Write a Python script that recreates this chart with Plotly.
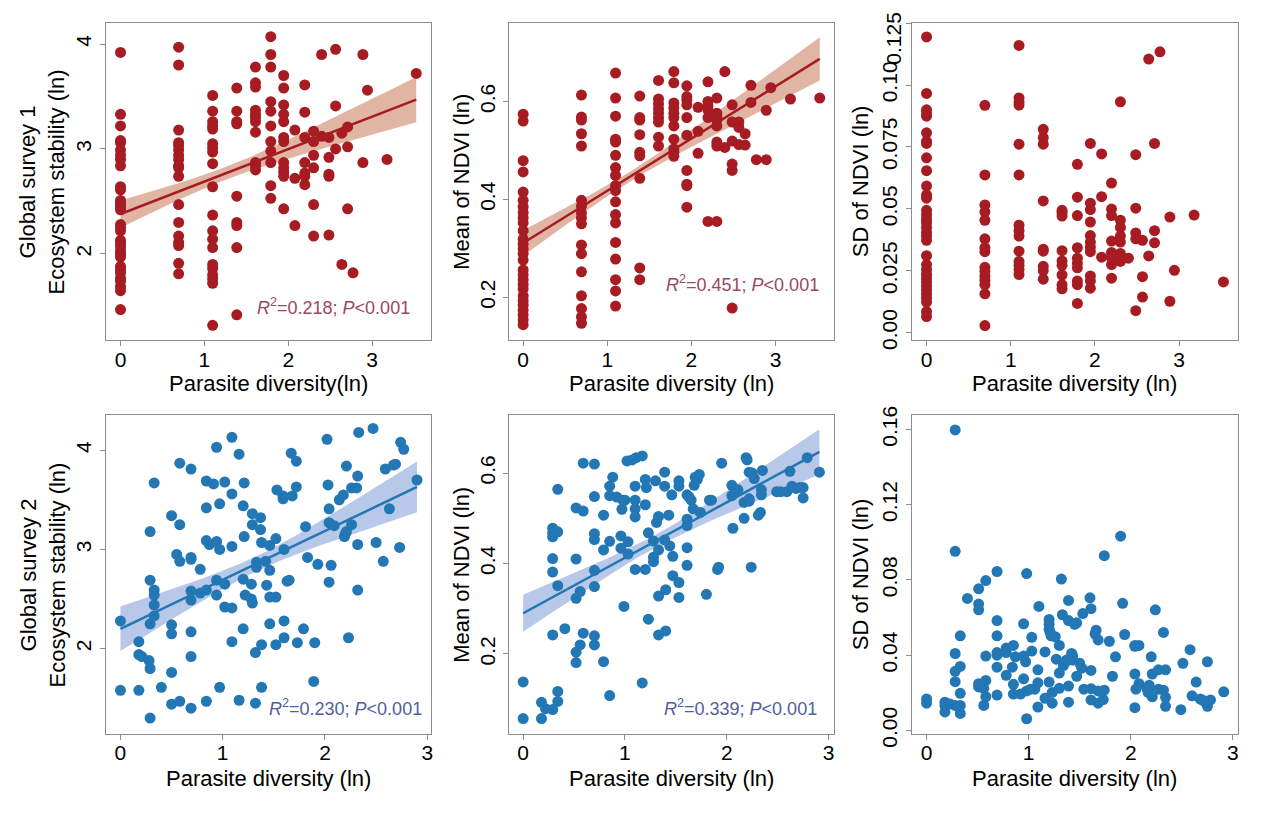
import numpy as np
import plotly.graph_objects as go

# ---------------- DATA ----------------
# Top row: parasite richness groups (x = ln(n))
top_n = [1, 2, 3, 4, 5, 6, 7, 8, 9, 10, 11, 12, 13, 14, 15, 16, 18, 19, 24, 34]

s1_stability = [
    [3.92, 3.33, 3.22, 3.08, 3.06, 2.99, 2.94, 2.90, 2.84, 2.64, 2.61, 2.51, 2.49, 2.47, 2.44, 2.42, 2.28, 2.25,
     2.22, 2.13, 2.10, 2.07, 2.03, 2.00, 1.97, 1.88, 1.85, 1.82, 1.77, 1.74, 1.69, 1.65, 1.47],
    [3.97, 3.80, 3.18, 3.06, 3.03, 2.99, 2.94, 2.90, 2.84, 2.82, 2.74, 2.47, 2.30, 2.17, 2.11, 2.08, 1.91, 1.81],
    [3.51, 3.36, 3.26, 3.22, 3.19, 3.05, 3.01, 2.97, 2.86, 2.64, 2.37, 2.22, 2.14, 2.06, 1.90, 1.86, 1.80, 1.76, 1.72, 1.32],
    [3.58, 3.36, 3.26, 3.24, 2.55, 2.30, 2.27, 2.06, 1.42],
    [3.78, 3.63, 3.59, 3.37, 3.33, 3.30, 3.26, 3.16, 2.87, 2.84, 2.80],
    [4.07, 3.90, 3.78, 3.45, 3.36, 3.22, 3.07, 2.98, 2.87, 2.65, 2.53],
    [3.70, 3.58, 3.42, 3.33, 3.26, 3.11, 3.07, 2.87, 2.82, 2.78, 2.74, 2.43],
    [3.18, 2.72, 2.27],
    [3.61, 3.35, 3.11, 2.87, 2.77, 2.74, 2.66],
    [3.17, 3.07, 2.94, 2.82, 2.47, 2.17],
    [3.90, 3.12],
    [3.11, 2.92, 2.76, 2.74, 2.18],
    [3.95, 3.41, 3.00],
    [3.15, 1.90],
    [3.21, 3.02, 2.43],
    [1.82],
    [3.90, 2.87],
    [3.56],
    [2.90],
    [3.72],
]

s1_mean_ndvi = [
    [0.574, 0.560, 0.479, 0.456, 0.415, 0.398, 0.385, 0.373, 0.362, 0.352, 0.336, 0.319, 0.309, 0.299, 0.289, 0.276,
     0.256, 0.246, 0.236, 0.226, 0.217, 0.203, 0.193, 0.184, 0.174, 0.164, 0.154, 0.144],
    [0.613, 0.568, 0.562, 0.534, 0.509, 0.398, 0.386, 0.372, 0.362, 0.350, 0.307, 0.289, 0.252, 0.203, 0.177, 0.160, 0.147],
    [0.658, 0.607, 0.570, 0.523, 0.517, 0.490, 0.465, 0.449, 0.428, 0.418, 0.395, 0.369, 0.352, 0.312, 0.278, 0.236,
     0.213, 0.182],
    [0.611, 0.567, 0.562, 0.532, 0.496, 0.489, 0.443, 0.260, 0.236],
    [0.643, 0.605, 0.595, 0.585, 0.576, 0.567, 0.558, 0.527, 0.509],
    [0.661, 0.638, 0.597, 0.587, 0.576, 0.567, 0.550, 0.523, 0.503, 0.496, 0.488],
    [0.632, 0.610, 0.603, 0.593, 0.567, 0.531, 0.459, 0.431, 0.428, 0.384],
    [0.588, 0.539, 0.494],
    [0.640, 0.600, 0.591, 0.582, 0.567, 0.355],
    [0.607, 0.576, 0.570, 0.562, 0.550, 0.517, 0.509, 0.355],
    [0.661, 0.506],
    [0.593, 0.558, 0.519, 0.472, 0.459, 0.178],
    [0.558, 0.547, 0.512],
    [0.534, 0.511],
    [0.633, 0.598],
    [0.481],
    [0.582, 0.481],
    [0.628],
    [0.605],
    [0.607],
]

s1_sd_ndvi = [
    [0.1194, 0.0966, 0.0900, 0.0887, 0.0874, 0.0807, 0.0772, 0.0764, 0.0706, 0.0654, 0.0592, 0.0556, 0.0543, 0.0494,
     0.0477, 0.0460, 0.0445, 0.0425, 0.0405, 0.0390, 0.0373, 0.0311, 0.0275, 0.0255, 0.0235, 0.0222, 0.0207, 0.0190,
     0.0173, 0.0157, 0.0141, 0.0124, 0.0085, 0.0065],
    [0.0918, 0.0637, 0.0516, 0.0488, 0.0454, 0.0379, 0.0343, 0.0327, 0.0264, 0.0248, 0.0229, 0.0212, 0.0194, 0.0157, 0.0029],
    [0.1160, 0.0948, 0.0931, 0.0919, 0.0761, 0.0637, 0.0434, 0.0412, 0.0390, 0.0329, 0.0288, 0.0272, 0.0255, 0.0235],
    [0.0821, 0.0788, 0.0761, 0.0532, 0.0337, 0.0329, 0.0268, 0.0251, 0.0216],
    [0.0494, 0.0484, 0.0471, 0.0331, 0.0290, 0.0272, 0.0233, 0.0194, 0.0177],
    [0.0680, 0.0547, 0.0473, 0.0343, 0.0301, 0.0281, 0.0262, 0.0209, 0.0194, 0.0118],
    [0.0764, 0.0523, 0.0497, 0.0447, 0.0392, 0.0366, 0.0346, 0.0327, 0.0229, 0.0209, 0.0180],
    [0.0722, 0.0549, 0.0305],
    [0.0604, 0.0499, 0.0473, 0.0370, 0.0324, 0.0301, 0.0275, 0.0220],
    [0.0932, 0.0454, 0.0425, 0.0390, 0.0366, 0.0320, 0.0288],
    [0.0301],
    [0.0719, 0.0503, 0.0403, 0.0379, 0.0089],
    [0.0373, 0.0226, 0.0144],
    [0.1105, 0.0310],
    [0.0764, 0.0412, 0.0363],
    [0.1134],
    [0.0467, 0.0127],
    [0.0252],
    [0.0475],
    [0.0205],
]

# Bottom row: Global survey 2
s2_div_a = [0.00, 0.00, 0.18, 0.18, 0.18, 0.21, 0.28, 0.29, 0.29, 0.29, 0.29, 0.29, 0.33, 0.33, 0.33, 0.33, 0.33, 0.40,
            0.50, 0.50, 0.50, 0.50, 0.50, 0.55, 0.58, 0.58, 0.58, 0.58, 0.69, 0.69, 0.69, 0.69, 0.69, 0.69, 0.69, 0.69,
            0.78, 0.78, 0.84, 0.84, 0.84, 0.84, 0.84, 0.87, 0.91, 0.94, 0.94, 0.94, 0.94, 0.97, 0.97, 0.97, 1.02, 1.02,
            1.02, 1.09, 1.09, 1.09, 1.09, 1.09, 1.16, 1.16, 1.20, 1.20, 1.20, 1.21, 1.21, 1.22, 1.28, 1.28, 1.29,
            1.29, 1.29, 1.32, 1.32, 1.33, 1.33, 1.37, 1.37, 1.38, 1.38, 1.38, 1.42, 1.43, 1.46, 1.46, 1.46, 1.46, 1.52,
            1.52, 1.52, 1.53, 1.59, 1.59, 1.60, 1.60, 1.60, 1.63, 1.65, 1.67, 1.68, 1.72, 1.72, 1.73, 1.79, 1.81,
            1.83, 1.89, 1.90, 1.93, 2.02, 2.03, 2.04, 2.04, 2.04, 2.06, 2.09, 2.14, 2.18, 2.19, 2.20, 2.21, 2.21,
            2.23, 2.26, 2.26, 2.31, 2.32, 2.32, 2.32, 2.33, 2.47, 2.50, 2.57, 2.59, 2.63, 2.67, 2.69, 2.73, 2.74, 2.77,
            2.90]
s2_stability = [2.28, 1.58, 2.07, 1.94, 1.58, 1.92, 1.88, 3.18, 2.69, 2.25, 1.80, 1.30, 3.67, 2.59, 2.54, 2.44, 2.33,
                1.61, 3.34, 2.24, 2.15, 1.76, 1.44, 2.95, 3.87, 3.25, 2.88, 1.47, 3.81, 2.92, 2.90, 2.58, 2.49, 2.17,
                1.92, 1.40, 2.80, 2.56, 3.69, 3.42, 3.09, 2.59, 1.47, 3.05, 3.66, 4.03, 3.08, 2.69, 2.54, 3.46, 3.00,
                1.61, 3.68, 2.65, 2.42, 4.13, 3.56, 3.03, 2.41, 2.07, 3.96, 1.48, 3.44, 2.70, 2.20, 3.67, 3.13,
                2.54, 2.65, 2.50, 3.36, 3.25, 2.46, 1.96, 1.45, 2.87, 2.82, 3.32, 3.20, 3.07, 2.04, 1.61, 2.88, 2.64,
                3.04, 2.79, 2.52, 2.25, 3.11, 2.52, 2.04, 3.60, 3.54, 3.51, 3.00, 2.28, 2.11, 2.68, 2.69, 3.97, 3.54,
                3.89, 3.63, 2.06, 2.20, 3.23, 2.92, 1.67, 2.06, 2.85, 4.11, 3.65, 3.41, 3.27, 2.67, 2.84, 3.24, 3.50,
                3.55, 3.13, 3.16, 3.84, 3.18, 2.11, 3.62, 3.25, 3.62, 3.74, 3.05, 2.59, 4.18, 4.22, 3.07, 2.88, 3.81,
                3.41, 3.85, 3.86, 3.02, 4.08, 4.01, 3.70]

s2_div_b = [0.00, 0.00, 0.18, 0.18, 0.22, 0.29, 0.29, 0.29, 0.29, 0.29, 0.29, 0.29, 0.34, 0.34, 0.34, 0.34, 0.34, 0.41,
            0.52, 0.52, 0.52, 0.52, 0.52, 0.56, 0.59, 0.59, 0.59, 0.56, 0.70, 0.70, 0.70, 0.70, 0.70, 0.70, 0.70, 0.70,
            0.79, 0.79, 0.79, 0.85, 0.85, 0.88, 0.85, 0.85, 0.92, 0.96, 0.96, 0.97, 0.99, 0.98, 1.00, 1.02, 1.03, 1.03,
            1.07, 1.10, 1.10, 1.10, 1.10, 1.10, 1.11, 1.17, 1.17, 1.20, 1.20, 1.20, 1.21, 1.23, 1.23, 1.28, 1.28,
            1.30, 1.31, 1.28, 1.33, 1.33, 1.33, 1.33, 1.39, 1.39, 1.39, 1.40, 1.40, 1.43, 1.44, 1.46, 1.47, 1.47,
            1.53, 1.53, 1.53, 1.53, 1.61, 1.61, 1.61, 1.61, 1.61, 1.63, 1.65, 1.67, 1.68, 1.69, 1.71, 1.73, 1.74,
            1.80, 1.83, 1.85, 1.91, 1.92, 1.95, 2.05, 2.05, 2.06, 2.08, 2.11, 2.17, 2.17, 2.19, 2.20, 2.22, 2.22,
            2.22, 2.24, 2.25, 2.27, 2.31, 2.33, 2.34, 2.34, 2.35, 2.49, 2.53, 2.59, 2.62, 2.64, 2.68, 2.72, 2.75,
            2.75, 2.79, 2.91]
s2_mean_ndvi = [0.138, 0.057, 0.093, 0.057, 0.079, 0.478, 0.468, 0.459, 0.411, 0.381, 0.242, 0.077, 0.564, 0.470,
                0.351, 0.117, 0.095, 0.256, 0.523, 0.410, 0.323, 0.204, 0.181, 0.338, 0.622, 0.516, 0.246, 0.220,
                0.620, 0.548, 0.466, 0.453, 0.385, 0.349, 0.240, 0.220, 0.507, 0.183, 0.430, 0.449, 0.108, 0.591,
                0.571, 0.550, 0.547, 0.461, 0.434, 0.520, 0.305, 0.540, 0.540, 0.627, 0.448, 0.421, 0.629, 0.540,
                0.521, 0.571, 0.503, 0.387, 0.634, 0.638, 0.136, 0.530, 0.387, 0.586, 0.568, 0.468, 0.277, 0.450,
                0.414, 0.583, 0.491, 0.404, 0.504, 0.430, 0.328, 0.242, 0.602, 0.571, 0.452, 0.342, 0.251, 0.507,
                0.439, 0.552, 0.416, 0.373, 0.571, 0.583, 0.358, 0.325, 0.552, 0.498, 0.484, 0.435, 0.396, 0.547,
                0.540, 0.521, 0.573, 0.591, 0.586, 0.597, 0.513, 0.332, 0.540, 0.540, 0.387, 0.392, 0.622, 0.550,
                0.573, 0.478, 0.557, 0.563, 0.535, 0.500, 0.634, 0.629, 0.538, 0.602, 0.543, 0.392, 0.600, 0.588,
                0.507, 0.513, 0.563, 0.552, 0.606, 0.559, 0.559, 0.559, 0.604, 0.571, 0.566, 0.568, 0.568, 0.545,
                0.634, 0.602]

s2_div_c = [0.00, 0.00, 0.18, 0.18, 0.18, 0.23, 0.28, 0.28, 0.28, 0.28, 0.28, 0.28, 0.33, 0.33, 0.33, 0.33, 0.33, 0.40,
            0.51, 0.51, 0.51, 0.51, 0.51, 0.56, 0.56, 0.58, 0.58, 0.58, 0.58, 0.69, 0.69, 0.69, 0.69, 0.69, 0.69, 0.69,
            0.78, 0.78, 0.78, 0.85, 0.84, 0.85, 0.85, 0.87, 0.92, 0.95, 0.95, 0.95, 0.97, 0.98, 0.98, 0.98, 1.02,
            1.03, 1.03, 1.06, 1.10, 1.09, 1.09, 1.09, 1.16, 1.16, 1.20, 1.20, 1.20, 1.21, 1.20, 1.22, 1.23, 1.23,
            1.26, 1.27, 1.30, 1.30, 1.30, 1.32, 1.33, 1.34, 1.36, 1.37, 1.39, 1.39, 1.39, 1.39, 1.42, 1.43, 1.43,
            1.45, 1.47, 1.47, 1.50, 1.52, 1.53, 1.54, 1.60, 1.61, 1.61, 1.61, 1.61, 1.65, 1.66, 1.68, 1.68, 1.68,
            1.74, 1.73, 1.74, 1.79, 1.82, 1.85, 1.90, 1.92, 1.94, 2.04, 2.04, 2.04, 2.05, 2.08, 2.04, 2.08, 2.16,
            2.17, 2.18, 2.20, 2.21, 2.21, 2.24, 2.27, 2.27, 2.32, 2.32, 2.34, 2.34, 2.34, 2.49, 2.51, 2.58, 2.60,
            2.64, 2.68, 2.71, 2.75, 2.75, 2.78, 2.91]
s2_sd_ndvi = [0.0167, 0.0145, 0.0150, 0.0133, 0.0098, 0.0141, 0.1598, 0.0952, 0.0409, 0.0314, 0.0259, 0.0133, 0.0503,
              0.0340, 0.0197, 0.0133, 0.0090, 0.0702, 0.0753, 0.0672, 0.0641, 0.0248, 0.0231, 0.0224, 0.0133, 0.0797,
              0.0395, 0.0266, 0.0179, 0.0845, 0.0584, 0.0503, 0.0414, 0.0400, 0.0336, 0.0188, 0.0438, 0.0414, 0.0293,
              0.0452, 0.0336, 0.0245, 0.0193, 0.0391, 0.0193, 0.0567, 0.0274, 0.0395, 0.0365, 0.0062, 0.0834, 0.0210,
              0.0219, 0.0495, 0.0422, 0.0219, 0.0659, 0.0322, 0.0253, 0.0124, 0.0417, 0.0171, 0.0590, 0.0564, 0.0538,
              0.0521, 0.0257, 0.0503, 0.0145, 0.0202, 0.0498, 0.0379, 0.0452, 0.0224, 0.0305, 0.0805, 0.0615, 0.0345,
              0.0365, 0.0374, 0.0584, 0.0691, 0.0236, 0.0150, 0.0409, 0.0397, 0.0374, 0.0564, 0.0572, 0.0288, 0.0357,
              0.0331, 0.0621, 0.0219, 0.0705, 0.0647, 0.0319, 0.0222, 0.0162, 0.0512, 0.0533, 0.0481, 0.0210, 0.0145,
              0.0929, 0.0164, 0.0214, 0.0474, 0.0288, 0.0391, 0.1033, 0.0676, 0.0510, 0.0447, 0.0452, 0.0300, 0.0219,
              0.0248, 0.0121, 0.0452, 0.0219, 0.0202, 0.0240, 0.0391, 0.0300, 0.0179, 0.0641, 0.0322, 0.0219, 0.0521,
              0.0214, 0.0322, 0.0176, 0.0128, 0.0110, 0.0357, 0.0429, 0.0184, 0.0257, 0.0167, 0.0159, 0.0365, 0.0128,
              0.0162, 0.0205]

# Regression results:
# [x_start, x_end, y_start, y_end, CI half-width at start, minimum CI half-width, CI half-width at end]
fit_s1_stability = [0.0, 3.526, 2.38, 3.47, 0.13, 0.06, 0.215]
fit_s1_mean_ndvi = [0.0, 3.526, 0.311, 0.687, 0.026, 0.010, 0.044]
fit_s2_stability = [0.0, 2.90, 2.20, 3.63, 0.224, 0.075, 0.256]
fit_s2_mean_ndvi = [0.0, 2.91, 0.290, 0.647, 0.041, 0.014, 0.050]

stats_r2 = ["0.218", "0.451", "0.230", "0.339"]

x_title = ["Parasite diversity(ln)", "Parasite diversity (ln)", "Parasite diversity (ln)",
           "Parasite diversity (ln)", "Parasite diversity (ln)", "Parasite diversity (ln)"]
y_title = ["Global survey 1<br>Ecosystem stability (ln)", "Mean of NDVI (ln)", "SD of NDVI (ln)",
           "Global survey 2<br>Ecosystem stability (ln)", "Mean of NDVI (ln)", "SD of NDVI (ln)"]

# ---------------- STYLE ----------------
RED = "#a61c22"
RED_BAND = "rgba(214,156,134,0.75)"
RED_TXT = "#9a4865"
BLUE = "#2277b4"
BLUE_BAND = "rgba(160,182,224,0.75)"
BLUE_TXT = "#4f5f9e"
FONT = "Arial, Liberation Sans, sans-serif"
FRAME = "#8c8c8c"
TICK_SIZE = 21
TITLE_SIZE = 22

W, H = 1267, 816
cols_px = [(106, 432), (510, 835), (913, 1240)]
rows_px = [(14, 341), (418, 746)]
ytitle_x = [43, 462, 862]
xtitle_y = [385, 792]


def flatten(groups):
    xs, ys = [], []
    for n, vals in zip(top_n, groups):
        for v in vals:
            xs.append(float(np.log(n)))
            ys.append(v)
    return np.array(xs), np.array(ys)


def band_from_fit(f, npts=80):
    xa, xb, ya, yb, h0, hm, h1 = f
    xs = np.linspace(xa, xb, npts)
    yh = ya + (yb - ya) * (xs - xa) / (xb - xa)
    # hyperbolic CI shape: hw = sqrt(hm^2 + b (x-m)^2)
    r = np.sqrt((h1 ** 2 - hm ** 2) / (h0 ** 2 - hm ** 2))
    m = xa + (xb - xa) / (1 + r)
    b = (h0 ** 2 - hm ** 2) / (m - xa) ** 2
    hw = np.sqrt(hm ** 2 + b * (xs - m) ** 2)
    return xs, yh, yh - hw, yh + hw


x1, y1 = flatten(s1_stability)
x2, y2 = flatten(s1_mean_ndvi)
x3, y3 = flatten(s1_sd_ndvi)

panels = [
    dict(x=x1, y=y1, c=RED, band=RED_BAND, txt=RED_TXT, fit=fit_s1_stability, stat=stats_r2[0], ay=306, ax=413,
         xr=[-0.175, 3.706], yr=[1.176, 4.204], yt=[2, 3, 4], ytt=["2", "3", "4"]),
    dict(x=x2, y=y2, c=RED, band=RED_BAND, txt=RED_TXT, fit=fit_s1_mean_ndvi, stat=stats_r2[1], ay=282, ax=822,
         xr=[-0.166, 3.692], yr=[0.112, 0.761], yt=[0.2, 0.4, 0.6], ytt=["0.2", "0.4", "0.6"]),
    dict(x=x3, y=y3, c=RED, fit=None,
         xr=[-0.178, 3.70], yr=[-0.0031, 0.1252],
         yt=[0, 0.025, 0.05, 0.075, 0.1, 0.125], ytt=["0.00", "0.025", "0.05", "0.075", "0.10", ""]),
    dict(x=np.array(s2_div_a), y=np.array(s2_stability), c=BLUE, band=BLUE_BAND, txt=BLUE_TXT,
         fit=fit_s2_stability, stat=stats_r2[2], ay=719, ax=425,
         xr=[-0.143, 3.04], yr=[1.14, 4.353], yt=[2, 3, 4], ytt=["2", "3", "4"]),
    dict(x=np.array(s2_div_b), y=np.array(s2_mean_ndvi), c=BLUE, band=BLUE_BAND, txt=BLUE_TXT,
         fit=fit_s2_mean_ndvi, stat=stats_r2[3], ay=719, ax=820,
         xr=[-0.137, 3.05], yr=[0.023, 0.728], yt=[0.2, 0.4, 0.6], ytt=["0.2", "0.4", "0.6"]),
    dict(x=np.array(s2_div_c), y=np.array(s2_sd_ndvi), c=BLUE, fit=None,
         xr=[-0.147, 3.05], yr=[-0.0019, 0.1676], yt=[0, 0.04, 0.08, 0.12, 0.16],
         ytt=["0.00", "0.04", "0.08", "0.12", "0.16"]),
]

fig = go.Figure()
layout = dict(width=W, height=H, margin=dict(l=0, r=0, t=0, b=0), showlegend=False,
              paper_bgcolor="white", plot_bgcolor="white", font=dict(family=FONT, color="black"))
annotations = []

for i, p in enumerate(panels):
    r, c = divmod(i, 3)
    k = "" if i == 0 else str(i + 1)
    xa, ya = "x" + k, "y" + k
    x0, x1p = cols_px[c]
    t0, b0 = rows_px[r]
    if p["fit"] is not None:
        xs, yh, lo, hi = band_from_fit(p["fit"])
        fig.add_trace(go.Scatter(x=np.concatenate([xs, xs[::-1]]), y=np.concatenate([hi, lo[::-1]]),
                                 fill="toself", fillcolor=p["band"], line=dict(width=0), mode="lines",
                                 hoverinfo="skip", xaxis=xa, yaxis=ya))
    fig.add_trace(go.Scatter(x=p["x"], y=p["y"], mode="markers",
                             marker=dict(color=p["c"], size=11, line=dict(width=0)),
                             xaxis=xa, yaxis=ya))
    if p["fit"] is not None:
        fig.add_trace(go.Scatter(x=xs, y=yh, mode="lines", line=dict(color=p["c"], width=2.5),
                                 xaxis=xa, yaxis=ya))
        annotations.append(dict(
            text="<i>R</i><sup>2</sup>=" + p["stat"] + "; <i>P</i>&lt;0.001",
            xref="paper", yref="paper", x=p["ax"] / W, y=1 - p["ay"] / H, xanchor="right", yanchor="middle",
            showarrow=False, font=dict(family=FONT, size=18, color=p["txt"])))
    axis_common = dict(showline=True, linecolor=FRAME, linewidth=1, mirror=True, ticks="outside",
                       ticklen=5, tickcolor=FRAME, showgrid=False, zeroline=False,
                       tickfont=dict(family=FONT, size=TICK_SIZE, color="black"))
    layout["xaxis" + k] = dict(axis_common, domain=[x0 / W, x1p / W], range=p["xr"], tickvals=[0, 1, 2, 3],
                               anchor=ya, ticklabelstandoff=-5)
    layout["yaxis" + k] = dict(axis_common, domain=[1 - b0 / H, 1 - t0 / H], range=p["yr"], tickvals=p["yt"],
                               ticktext=p["ytt"], tickmode="array", tickangle=-90, anchor=xa,
                               ticklabeloverflow="allow")
    # axis titles
    annotations.append(dict(text=x_title[i], xref="paper", yref="paper", x=(x0 + x1p) / 2 / W,
                            y=1 - xtitle_y[r] / H, xanchor="center", yanchor="middle", showarrow=False,
                            font=dict(family=FONT, size=TITLE_SIZE, color="black")))
    annotations.append(dict(text=y_title[i], xref="paper", yref="paper", x=ytitle_x[c] / W,
                            y=1 - (t0 + b0) / 2 / H, xanchor="center", yanchor="middle", showarrow=False,
                            textangle=-90, font=dict(family=FONT, size=TITLE_SIZE, color="black")))

# top tick label of the SD panel, nudged inside the page as in the original
annotations.append(dict(text="0.125", xref="paper", yref="paper", x=(913 - 18) / W, y=1 - 30 / H,
                        xanchor="center", yanchor="middle", showarrow=False, textangle=-90,
                        font=dict(family=FONT, size=TICK_SIZE, color="black")))

layout["annotations"] = annotations
fig.update_layout(**layout)
fig.write_html("out.html")
